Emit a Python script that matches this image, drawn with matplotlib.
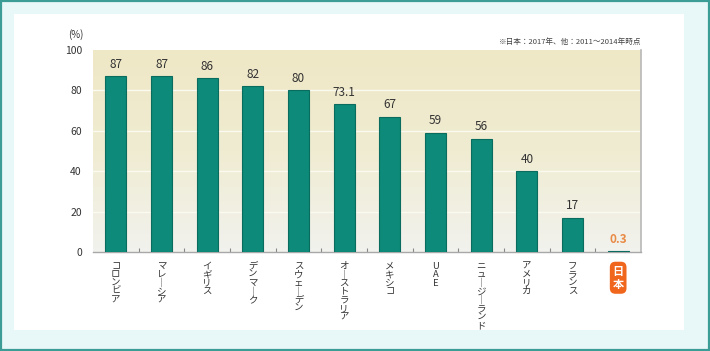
import matplotlib
matplotlib.use("Agg")
import matplotlib.pyplot as plt
import numpy as np
from matplotlib.patches import Rectangle
from matplotlib.colors import LinearSegmentedColormap

plt.rcParams['font.family'] = ['Noto Sans CJK JP', 'DejaVu Sans']

categories = ["コロンビア", "マレーシア", "イギリス", "デンマーク", "スウェーデン",
              "オーストラリア", "メキシコ", "UAE", "ニュージーランド", "アメリカ",
              "フランス", "日本"]
values = [87, 87, 86, 82, 80, 73.1, 67, 59, 56, 40, 17, 0.3]
value_labels = ["87", "87", "86", "82", "80", "73.1", "67", "59", "56", "40", "17", "0.3"]
yticks = [0, 20, 40, 60, 80, 100]
note = "※日本：2017年、他：2011～2014年時点"

W, H = 710, 351
fig = plt.figure(figsize=(W/100, H/100), dpi=100)
fig.patch.set_facecolor('white')

# outer frame
fig.patches.append(Rectangle((0, 0), 1, 1, transform=fig.transFigure, facecolor='#e8f7f7',
                             edgecolor='none', zorder=-10))
fig.patches.append(Rectangle((14/W, 1 - 330/H), (W - 40)/W, (330 - 14)/H, transform=fig.transFigure,
                             facecolor='white', edgecolor='none', zorder=-9))
fig.patches.append(Rectangle((1/W, 1/H), (W - 2)/W, (H - 2)/H, transform=fig.transFigure,
                             facecolor='none', edgecolor='#3c9d96', linewidth=1.6, zorder=-8))

left, right, top, bottom = 93, 641, 50, 252
ax = fig.add_axes([left/W, 1 - bottom/H, (right - left)/W, (bottom - top)/H])
ax.set_zorder(1)
ax.set_facecolor('none')

n = len(categories)
x = np.arange(n)

# gradient background
cmap = LinearSegmentedColormap.from_list('bg', ['#f2f2ee', '#f0ecd2', '#efe8c6'])
grad = np.linspace(0, 1, 256).reshape(-1, 1)
ax.imshow(grad, aspect='auto', cmap=cmap, origin='lower',
          extent=[-0.5, n - 0.5, 0, 100], zorder=0)
for yv in yticks[1:-1]:
    ax.axhline(yv, color='#fbfaf0', linewidth=1.0, zorder=1)

bar_colors = ['#0d8a79'] * n
ax.bar(x, values, width=0.46, color=bar_colors, edgecolor='#0a6c5f', linewidth=0.8, zorder=3)
ax.set_xlim(-0.5, n - 0.5)
ax.set_ylim(0, 100)

for i, (v, lab) in enumerate(zip(values, value_labels)):
    is_jp = categories[i] == "日本"
    ax.annotate(lab, (x[i], v), xytext=(0, 4), textcoords='offset points',
                ha='center', va='bottom', fontsize=8.5,
                color='#e98a45' if is_jp else '#333333',
                fontweight='bold' if is_jp else 'normal', zorder=4)

for s in ['top', 'left']:
    ax.spines[s].set_visible(False)
ax.spines['right'].set_color('#b8b8b8')
ax.spines['right'].set_linewidth(1.2)
ax.spines['bottom'].set_color('#a8a8a8')
ax.spines['bottom'].set_linewidth(1.0)

ax.set_yticks(yticks)
ax.set_yticklabels([str(t) for t in yticks], fontsize=7.5, color='#333333')
ax.tick_params(axis='y', length=0, pad=8)
ax.set_xticks(np.arange(n - 1) + 0.5)
ax.set_xticklabels([])
ax.tick_params(axis='x', direction='in', length=3, color='#888888', width=0.8)

# vertical category labels
for i, c in enumerate(categories):
    txt = "\n".join(ch if ch != "ー" else "｜" for ch in c)
    if c == "日本":
        ax.annotate(txt, (x[i], 0), xytext=(0, -9), textcoords='offset points',
                    ha='center', va='top', fontsize=8, color='white', fontweight='bold',
                    linespacing=1.05,
                    bbox=dict(boxstyle='round,pad=0.25,rounding_size=0.5', fc='#f0661c', ec='none'),
                    annotation_clip=False)
    else:
        ax.annotate(txt, (x[i], 0), xytext=(0, -7), textcoords='offset points',
                    ha='center', va='top', fontsize=6.8, color='#333333',
                    linespacing=0.92, annotation_clip=False)

fig.text(76/W, 1 - 35/H, "(%)", fontsize=7, color='#333333', ha='center', va='center')
fig.text(641/W, 1 - 42/H, note, fontsize=5.5, color='#444444', ha='right', va='center')

fig.savefig('out.png', dpi=100)
